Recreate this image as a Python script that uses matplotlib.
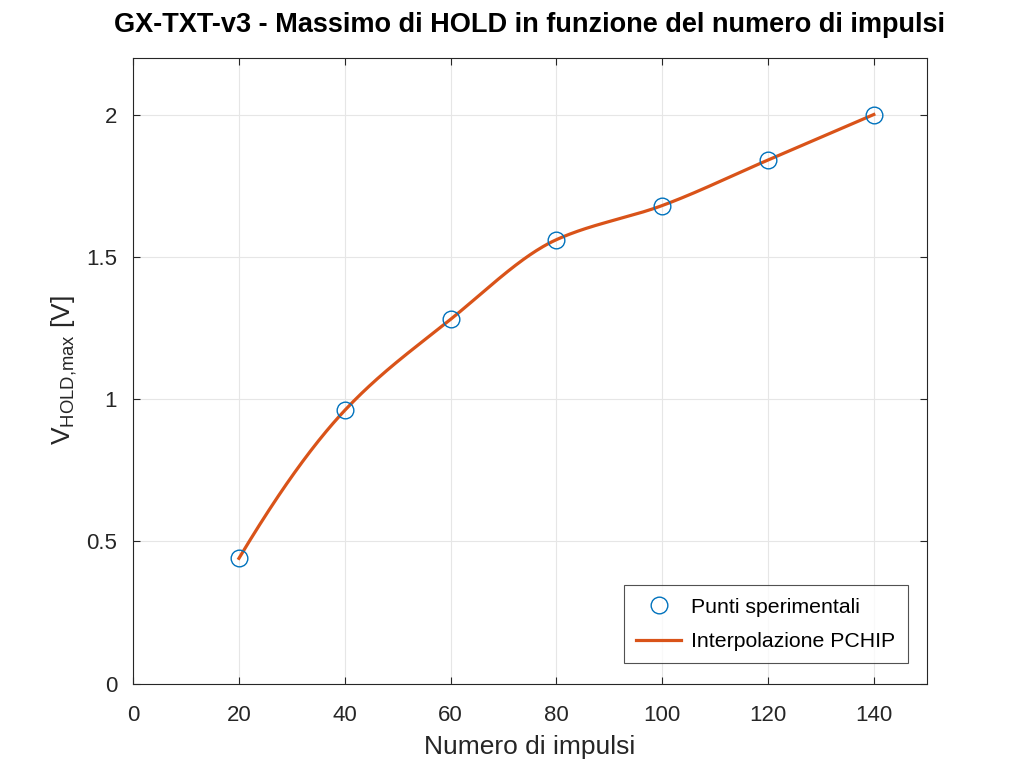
import numpy as np
import matplotlib
matplotlib.use("Agg")
import matplotlib.pyplot as plt

impulsi = [20, 40, 60, 80, 100, 120, 140]
v_hold = [0.44, 0.96, 1.28, 1.56, 1.68, 1.84, 2.00]

def pchip(x, y, xq):
    x = np.asarray(x, float); y = np.asarray(y, float)
    h = np.diff(x); delta = np.diff(y) / h
    n = len(x)
    d = np.zeros(n)
    for k in range(1, n - 1):
        if delta[k-1] * delta[k] > 0:
            w1 = 2*h[k] + h[k-1]; w2 = h[k] + 2*h[k-1]
            d[k] = (w1 + w2) / (w1/delta[k-1] + w2/delta[k])
    def end(h0, h1, d0, d1):
        dd = ((2*h0 + h1)*d0 - h0*d1) / (h0 + h1)
        if np.sign(dd) != np.sign(d0):
            dd = 0.0
        elif np.sign(d0) != np.sign(d1) and abs(dd) > abs(3*d0):
            dd = 3*d0
        return dd
    d[0] = end(h[0], h[1], delta[0], delta[1])
    d[-1] = end(h[-1], h[-2], delta[-1], delta[-2])
    xq = np.asarray(xq, float)
    idx = np.clip(np.searchsorted(x, xq) - 1, 0, n - 2)
    t = (xq - x[idx]) / h[idx]
    h00 = 2*t**3 - 3*t**2 + 1; h10 = t**3 - 2*t**2 + t
    h01 = -2*t**3 + 3*t**2; h11 = t**3 - t**2
    return h00*y[idx] + h10*h[idx]*d[idx] + h01*y[idx+1] + h11*h[idx]*d[idx+1]

xq = np.linspace(min(impulsi), max(impulsi), 400)
yq = pchip(impulsi, v_hold, xq)

plt.rcParams['font.family'] = ['Liberation Sans', 'DejaVu Sans']
plt.rcParams['mathtext.fontset'] = 'custom'
plt.rcParams['mathtext.rm'] = 'Liberation Sans'
fig = plt.figure(figsize=(10.24, 7.68), dpi=100)
ax = fig.add_axes([0.13, 0.11, 0.775, 0.815])

ax.plot(impulsi, v_hold, 'o', mfc='none', mec='#0072BD', ms=12, mew=1.0,
        label='Punti sperimentali', zorder=3)
ax.plot(xq, yq, '-', color='#D95319', lw=2.3, label='Interpolazione PCHIP', zorder=2)

ax.set_xlim(0, 150)
ax.set_ylim(0, 2.2)
ax.set_xticks(np.arange(0, 141, 20))
ax.set_yticks([0, 0.5, 1, 1.5, 2])
ax.set_yticklabels(['0', '0.5', '1', '1.5', '2'])
ax.grid(True, color='#e6e6e6', lw=0.8)
ax.set_axisbelow(True)
ax.tick_params(direction='in', length=5, labelsize=16, colors='#262626', top=True, right=True,
               labeltop=False, labelright=False)
ax.tick_params(axis='x', pad=15.6)
ax.tick_params(axis='y', pad=11.5)
for s in ax.spines.values():
    s.set_color('#262626'); s.set_linewidth(0.8)

ax.set_xlabel('Numero di impulsi', fontsize=19, color='#262626', labelpad=6)
ax.set_ylabel(r'V$_{\mathregular{HOLD{,}max}}$ [V]', fontsize=19, color='#262626', labelpad=5)
ax.set_title('GX-TXT-v3 - Massimo di HOLD in funzione del numero di impulsi',
             fontsize=19.5, fontweight='bold', pad=18.5)

leg = ax.legend(loc='lower right', fontsize=15.35, frameon=True, fancybox=False,
                edgecolor='#262626', borderpad=0.58, handlelength=2.1, handletextpad=0.47,
                labelspacing=0.72, borderaxespad=0, bbox_to_anchor=(0.976, 0.032))
leg.get_frame().set_linewidth(0.8)

fig.savefig('out.png', dpi=100)
